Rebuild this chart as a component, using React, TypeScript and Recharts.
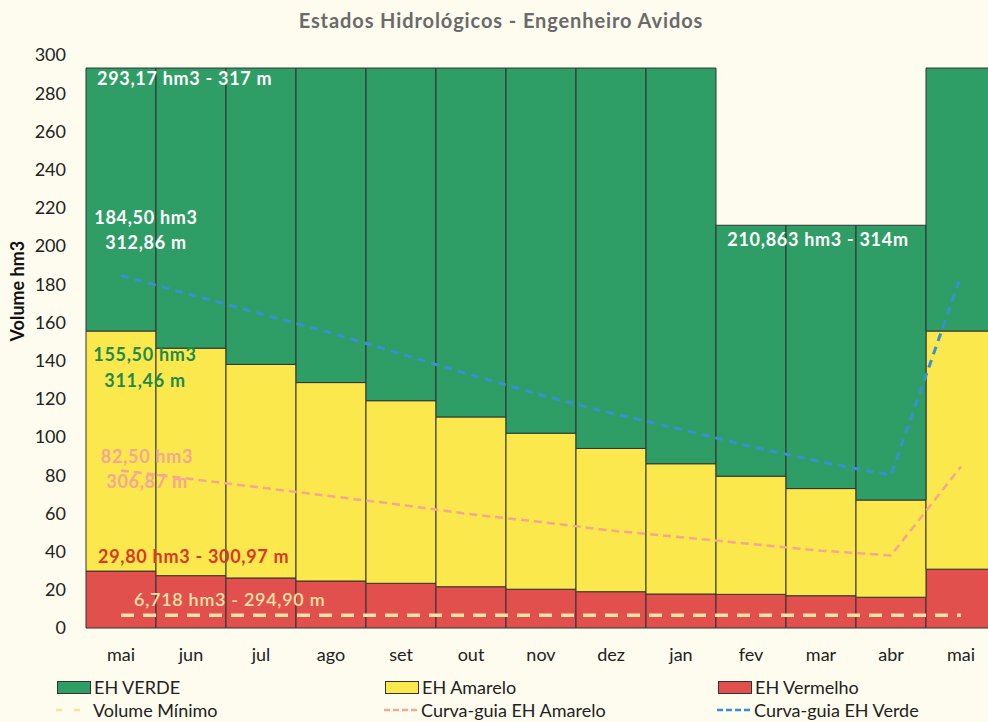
import React from 'react';
import { ComposedChart, Bar, Line, XAxis, YAxis, ReferenceLine, ReferenceDot } from 'recharts';

const months = ['mai', 'jun', 'jul', 'ago', 'set', 'out', 'nov', 'dez', 'jan', 'fev', 'mar', 'abr', 'mai'];
const totalVolume = [293.17, 293.17, 293.17, 293.17, 293.17, 293.17, 293.17, 293.17, 293.17, 210.863, 210.863, 210.863, 293.17];
const amareloTop = [155.5, 146.5, 138, 128.5, 119, 110.5, 102, 94, 86, 79.5, 73, 67, 155.5];
const vermelhoTop = [29.8, 27.4, 26.2, 24.6, 23.4, 21.6, 20.3, 19.0, 17.8, 17.6, 16.9, 16.1, 30.8];
const volumeMinimo = [6.718, 6.718, 6.718, 6.718, 6.718, 6.718, 6.718, 6.718, 6.718, 6.718, 6.718, 6.718, 6.718];
const curvaAmarelo = [82.5, 78, 73.5, 69, 64.5, 59.5, 55.5, 51, 47.5, 44, 40.5, 38, 84.5];
const curvaVerde = [184.5, 174.5, 164.5, 154.5, 143.5, 132.5, 122, 112.5, 104, 95, 87, 80, 184.5];
const yTicks = [0, 20, 40, 60, 80, 100, 120, 140, 160, 180, 200, 220, 240, 260, 280, 300];

const data = months.map((m, i) => ({
  idx: i,
  vermelho: vermelhoTop[i],
  amarelo: amareloTop[i] - vermelhoTop[i],
  verde: totalVolume[i] - amareloTop[i],
  minimo: volumeMinimo[i],
  guiaAmarelo: curvaAmarelo[i],
  guiaVerde: curvaVerde[i],
}));

const GREEN = '#2f9d66';
const YELLOW = '#fbe84c';
const RED = '#e2504e';
const BG = '#fdfcee';
const FONT = 'Lato, "Open Sans", sans-serif';

// text block placed relative to a reference line / dot
const Note = (props: any) => {
  const { viewBox, lines, fill, anchor = 'start', dx = 0, dy = [0], center = false, weight = 700 } = props;
  if (!viewBox) return null;
  const x0 = center ? viewBox.x + viewBox.width / 2 : viewBox.x;
  const y0 = viewBox.y + (center ? viewBox.height / 2 : 0);
  return (
    <g>
      {lines.map((t: string, i: number) => (
        <text key={i} x={x0 + dx} y={y0 + dy[i]} fill={fill} textAnchor={anchor}
          fontFamily={FONT} fontSize={18} fontWeight={weight} letterSpacing={0.7}>{t}</text>
      ))}
    </g>
  );
};

const LegendItem = ({ x, y, label, box, dash }: any) => (
  <div style={{ position: 'absolute', left: x, top: y, display: 'flex', alignItems: 'center', height: 22 }}>
    {box ? (
      <div style={{ width: 34, height: 13, background: box, border: '1px solid #333', boxSizing: 'border-box', marginRight: 3 }} />
    ) : (
      <svg width={36} height={10} style={{ marginRight: 2 }}>
        <line x1={1} y1={5} x2={35} y2={5} stroke={dash.color} strokeWidth={2.5} strokeDasharray={dash.pattern} />
      </svg>
    )}
    <span style={{ fontSize: 18, color: '#222', fontFamily: FONT }}>{label}</span>
  </div>
);

export default function App() {
  return (
    <div style={{ position: 'absolute', left: 0, top: 0, width: 988, height: 722, overflow: 'hidden', background: BG }}>
      <div style={{ position: 'absolute', left: 0, width: 1002, top: 8, textAlign: 'center', fontFamily: FONT, fontSize: 20, fontWeight: 700, letterSpacing: 0.9, color: '#6a6a6a' }}>
        Estados Hidrológicos - Engenheiro Avidos
      </div>
      <ComposedChart width={996} height={722} data={data} barCategoryGap={0}
        margin={{ top: 55, right: 0, bottom: 64, left: 16 }} style={{ position: 'absolute', left: 0, top: 0 }}>
        <XAxis dataKey="idx" height={30} axisLine={false} tickLine={false} tickMargin={14} interval={0}
          tickFormatter={(_v: any, i: number) => months[i]} tick={{ fill: '#222', fontSize: 18, fontFamily: FONT }} />
        <YAxis width={70} domain={[0, 300]} ticks={yTicks} axisLine={false} tickLine={false} tickMargin={14}
          tick={{ fill: '#222', fontSize: 18, fontFamily: FONT }}
          label={{ value: 'Volume hm3', angle: -90, position: 'insideLeft', offset: 2, fill: '#111', fontSize: 18, fontWeight: 700, fontFamily: FONT }} />
        <Bar dataKey="vermelho" stackId="eh" fill={RED} stroke="#333" strokeWidth={1} isAnimationActive={false} />
        <Bar dataKey="amarelo" stackId="eh" fill={YELLOW} stroke="#333" strokeWidth={1} isAnimationActive={false} />
        <Bar dataKey="verde" stackId="eh" fill={GREEN} stroke="#333" strokeWidth={1} isAnimationActive={false} />
        <Line dataKey="minimo" type="linear" stroke="#f8e3a4" strokeWidth={3.5} strokeDasharray="13 9" dot={false} activeDot={false} isAnimationActive={false} />
        <Line dataKey="guiaAmarelo" type="linear" stroke="#f5a791" strokeWidth={2.5} strokeDasharray="8 5" dot={false} activeDot={false} isAnimationActive={false} />
        <Line dataKey="guiaVerde" type="linear" stroke="#3a8fd2" strokeWidth={3} strokeDasharray="8 6" dot={false} activeDot={false} isAnimationActive={false} />
        <ReferenceLine y={293.17} stroke="none" label={(p: any) => <Note {...p} lines={['293,17 hm3 - 317 m']} fill="#fff" dx={11} dy={[17]} />} />
        <ReferenceLine y={184.5} stroke="none" label={(p: any) => <Note {...p} lines={['184,50 hm3', '312,86 m']} fill="#fff" anchor="middle" dx={60} dy={[-52, -27]} />} />
        <ReferenceLine y={155.5} stroke="none" label={(p: any) => <Note {...p} lines={['155,50 hm3', '311,46 m']} fill="#1f8a4c" anchor="middle" dx={59} dy={[30, 56]} />} />
        <ReferenceLine y={82.5} stroke="none" label={(p: any) => <Note {...p} lines={['82,50 hm3', '306,87 m']} fill="#f4a794" anchor="middle" dx={61} dy={[-7, 18]} />} />
        <ReferenceLine y={29.8} stroke="none" label={(p: any) => <Note {...p} lines={['29,80 hm3 - 300,97 m']} fill="#d8382a" dx={12} dy={[-8]} />} />
        <ReferenceLine y={6.718} stroke="none" label={(p: any) => <Note {...p} lines={['6,718 hm3 - 294,90 m']} fill="#f8e3a4" dx={48} dy={[-9]} weight={600} />} />
        <ReferenceDot x={10} y={210.863} r={1} fill="none" stroke="none"
          label={(p: any) => <Note {...p} lines={['210,863 hm3 - 314m']} fill="#fff" anchor="middle" center dx={-3} dy={[21]} />} />
      </ComposedChart>
      <LegendItem x={57} y={676} label="EH VERDE" box={GREEN} />
      <LegendItem x={385} y={676} label="EH Amarelo" box={YELLOW} />
      <LegendItem x={718} y={676} label="EH Vermelho" box={RED} />
      <LegendItem x={55} y={699} label="Volume Mínimo" dash={{ color: '#f8e3a4', pattern: '6 12' }} />
      <LegendItem x={383} y={699} label="Curva-guia EH Amarelo" dash={{ color: '#f5a791', pattern: '6 3' }} />
      <LegendItem x={716} y={699} label="Curva-guia EH Verde" dash={{ color: '#3a8fd2', pattern: '6 3' }} />
    </div>
  );
}
